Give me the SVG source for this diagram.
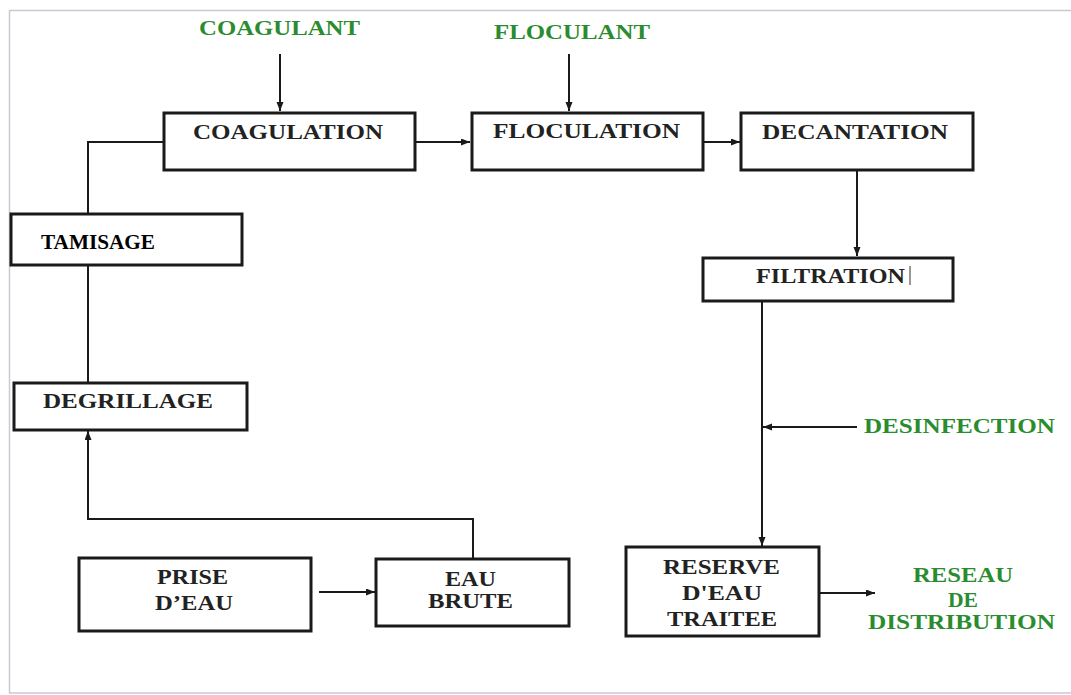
<svg xmlns="http://www.w3.org/2000/svg" width="1071" height="695" viewBox="0 0 1071 695">
<defs>
<marker id="ah" markerUnits="userSpaceOnUse" markerWidth="10" markerHeight="8" refX="9" refY="3.5" orient="auto">
<path d="M0,0 L9,3.5 L0,7 z" fill="#1a1a1a"/>
</marker>
<style>
.box{fill:#fff;stroke:#1a1a1a;stroke-width:3}
.t{font-family:"Liberation Serif","Times New Roman",serif;font-weight:bold;font-size:20px;fill:#222}
.g{font-family:"Liberation Serif","Times New Roman",serif;font-weight:bold;font-size:20px;fill:#2a8c2f}
.c{fill:none;stroke:#1a1a1a;stroke-width:2}
.frame{fill:none;stroke:#c9c9d6;stroke-width:1.5}
</style>
</defs>
<rect width="1071" height="695" fill="#fff"/>
<path class="frame" d="M1071,10.5 H9.5 V693 H1071"/>

<g id="connectors">
<line class="c" x1="280" y1="54" x2="280" y2="111" marker-end="url(#ah)"/>
<line class="c" x1="569" y1="54" x2="569" y2="111" marker-end="url(#ah)"/>
<line class="c" x1="415" y1="142" x2="470" y2="142" marker-end="url(#ah)"/>
<line class="c" x1="704" y1="142" x2="740" y2="142" marker-end="url(#ah)"/>
<line class="c" x1="857" y1="171" x2="857" y2="256" marker-end="url(#ah)"/>
<polyline class="c" points="164,142 88,142 88,214"/>
<line class="c" x1="88" y1="265" x2="88" y2="383"/>
<polyline class="c" points="473,559 473,519 88,519 88,431" marker-end="url(#ah)"/>
<line class="c" x1="319" y1="592" x2="375" y2="592" marker-end="url(#ah)"/>
<line class="c" x1="762" y1="302" x2="762" y2="546" marker-end="url(#ah)"/>
<line class="c" x1="857" y1="427" x2="763" y2="427" marker-end="url(#ah)"/>
<line class="c" x1="820" y1="593" x2="875" y2="593" marker-end="url(#ah)"/>
</g>

<g id="coagulant"><text class="g" x="199" y="35" textLength="161" lengthAdjust="spacingAndGlyphs">COAGULANT</text></g>
<g id="floculant"><text class="g" x="494" y="39" textLength="156" lengthAdjust="spacingAndGlyphs">FLOCULANT</text></g>

<g id="coagulation">
<rect class="box" x="164" y="113" width="251" height="57"/>
<text class="t" x="193" y="139" textLength="190" lengthAdjust="spacingAndGlyphs">COAGULATION</text>
</g>
<g id="floculation">
<rect class="box" x="472" y="113" width="231" height="57"/>
<text class="t" x="493" y="138" textLength="187" lengthAdjust="spacingAndGlyphs">FLOCULATION</text>
</g>
<g id="decantation">
<rect class="box" x="741" y="113" width="232" height="57"/>
<text class="t" x="762" y="139" textLength="186" lengthAdjust="spacingAndGlyphs">DECANTATION</text>
</g>
<g id="tamisage">
<rect class="box" x="11" y="214" width="231" height="51"/>
<text class="t" x="41" y="249" textLength="114" lengthAdjust="spacingAndGlyphs" style="fill:#000">TAMISAGE</text>
</g>
<g id="degrillage">
<rect class="box" x="14" y="383" width="233" height="47"/>
<text class="t" x="43" y="408" textLength="170" lengthAdjust="spacingAndGlyphs">DEGRILLAGE</text>
</g>
<g id="filtration">
<rect class="box" x="703" y="258" width="250" height="43"/>
<text class="t" x="756" y="283" textLength="149" lengthAdjust="spacingAndGlyphs">FILTRATION</text>
<line x1="910" y1="266" x2="910" y2="285" stroke="#333" stroke-width="1"/>
</g>
<g id="desinfection"><text class="g" x="864" y="433" textLength="191" lengthAdjust="spacingAndGlyphs">DESINFECTION</text></g>
<g id="reserve">
<rect class="box" x="626" y="547" width="193" height="89"/>
<text class="t" x="663" y="574" textLength="117" lengthAdjust="spacingAndGlyphs">RESERVE</text>
<text class="t" x="682" y="600" textLength="80" lengthAdjust="spacingAndGlyphs">D'EAU</text>
<text class="t" x="667" y="626" textLength="110" lengthAdjust="spacingAndGlyphs">TRAITEE</text>
</g>
<g id="reseau">
<text class="g" x="913" y="582" textLength="100" lengthAdjust="spacingAndGlyphs">RESEAU</text>
<text class="g" x="948" y="607" textLength="30" lengthAdjust="spacingAndGlyphs">DE</text>
<text class="g" x="868" y="629" textLength="187" lengthAdjust="spacingAndGlyphs">DISTRIBUTION</text>
</g>
<g id="prise">
<rect class="box" x="79" y="558" width="232" height="73"/>
<text class="t" x="157" y="584" textLength="71" lengthAdjust="spacingAndGlyphs">PRISE</text>
<text class="t" x="155" y="610" textLength="78" lengthAdjust="spacingAndGlyphs">D’EAU</text>
</g>
<g id="eau-brute">
<rect class="box" x="376" y="559" width="193" height="67"/>
<text class="t" x="445" y="586" textLength="51" lengthAdjust="spacingAndGlyphs">EAU</text>
<text class="t" x="428" y="608" textLength="85" lengthAdjust="spacingAndGlyphs">BRUTE</text>
</g>
</svg>
